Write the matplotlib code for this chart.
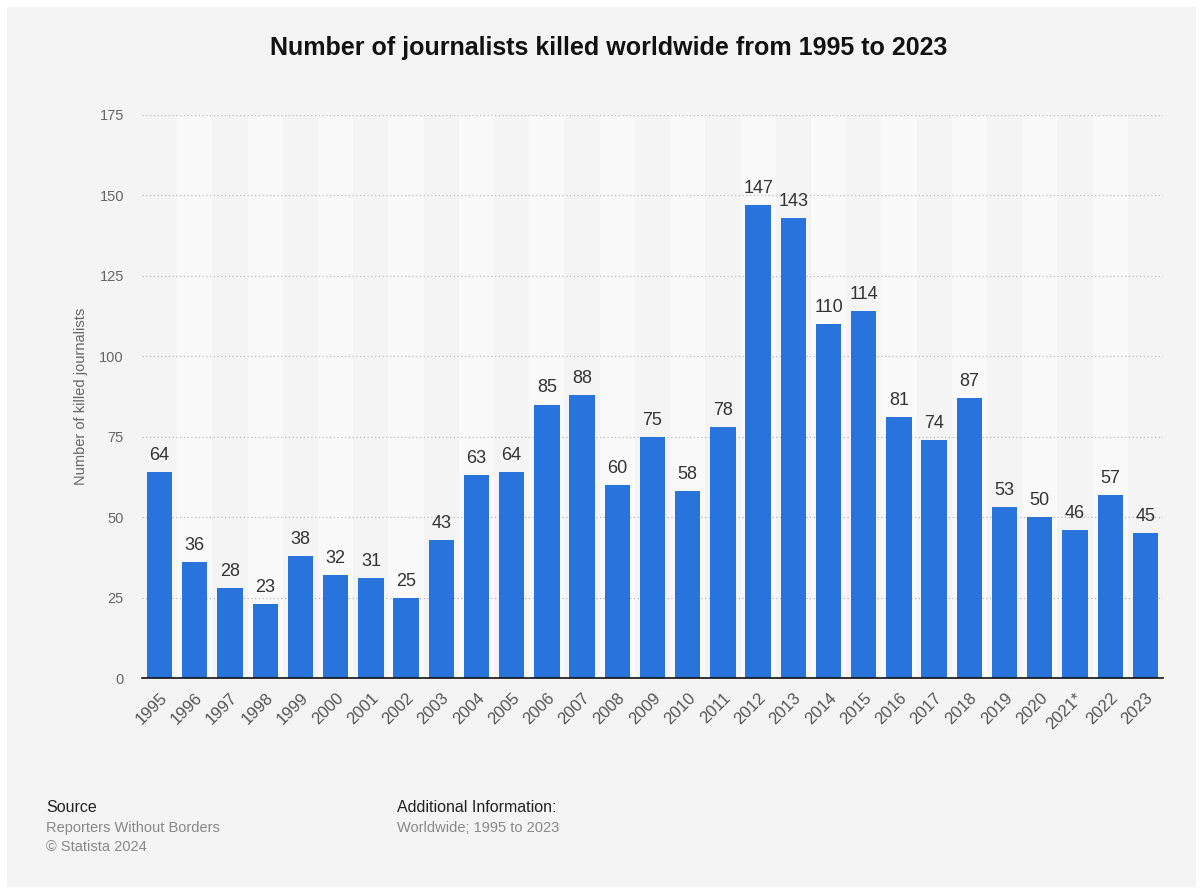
import matplotlib.pyplot as plt
from matplotlib.patches import Rectangle

years = ['1995', '1996', '1997', '1998', '1999', '2000', '2001', '2002', '2003', '2004',
         '2005', '2006', '2007', '2008', '2009', '2010', '2011', '2012', '2013', '2014',
         '2015', '2016', '2017', '2018', '2019', '2020', '2021*', '2022', '2023']
killed = [64, 36, 28, 23, 38, 32, 31, 25, 43, 63,
          64, 85, 88, 60, 75, 58, 78, 147, 143, 110,
          114, 81, 74, 87, 53, 50, 46, 57, 45]
y_ticks = [0, 25, 50, 75, 100, 125, 150, 175]

plt.rcParams['font.family'] = ['Liberation Sans', 'DejaVu Sans']

panel = '#f4f4f4'
band = '#f9f9f9'
blue = '#2874dc'

fig = plt.figure(figsize=(12.03, 8.94), dpi=100)
fig.patch.set_facecolor('white')
fig.patches.append(Rectangle((7 / 1203, 7 / 894), 1189 / 1203, 880 / 894,
                             transform=fig.transFigure, facecolor=panel,
                             edgecolor='none', zorder=-10))

ax = fig.add_axes([142 / 1203, 216 / 894, 1021 / 1203, 563 / 894])
ax.set_facecolor(panel)
ax.patch.set_alpha(0)

x = list(range(len(years)))
for i in x:
    if i % 2 == 1:
        ax.axvspan(i - 0.5, i + 0.5, color=band, zorder=0, lw=0)

bars = ax.bar(x, killed, width=0.72, color=blue, zorder=3)
for xi, v in zip(x, killed):
    ax.text(xi, v + 2.5, str(v), ha='center', va='bottom', fontsize=13,
            color='#333333', zorder=4)

ax.set_xlim(-0.5, len(years) - 0.5)
ax.set_ylim(0, 175)
ax.set_yticks(y_ticks)
ax.yaxis.grid(True, linestyle=(0, (1, 2)), color='#bbbbbb', lw=0.9, zorder=1)
ax.set_axisbelow(True)

for s in ['top', 'right', 'left']:
    ax.spines[s].set_visible(False)
ax.spines['bottom'].set_color('#111111')
ax.spines['bottom'].set_linewidth(1.2)
ax.spines['bottom'].set_zorder(5)

ax.set_xticks(x)
ax.set_xticklabels(years, rotation=45, ha='right', rotation_mode='anchor',
                   fontsize=12, color='#555555')
ax.tick_params(axis='x', length=0, pad=9)
ax.tick_params(axis='y', length=0, pad=13, labelsize=10.5, labelcolor='#666666')

ax.set_ylabel('Number of killed journalists', fontsize=10.5, color='#666666', labelpad=8)

fig.text(0.506, 1 - 48 / 894, 'Number of journalists killed worldwide from 1995 to 2023',
         ha='center', va='center', fontsize=18, fontweight='bold', color='#111111')

fig.text(46 / 1203, 1 - 808 / 894, 'Source', fontsize=11.5, color='#222222', va='center')
fig.text(46 / 1203, 1 - 828 / 894, 'Reporters Without Borders', fontsize=10.5, color='#888888', va='center')
fig.text(46 / 1203, 1 - 847 / 894, '\u00a9 Statista 2024', fontsize=10.5, color='#888888', va='center')
fig.text(397 / 1203, 1 - 808 / 894, 'Additional Information:', fontsize=11.5, color='#222222', va='center')
fig.text(397 / 1203, 1 - 828 / 894, 'Worldwide; 1995 to 2023', fontsize=10.5, color='#888888', va='center')

fig.savefig('out.png', dpi=100, facecolor=fig.get_facecolor())
